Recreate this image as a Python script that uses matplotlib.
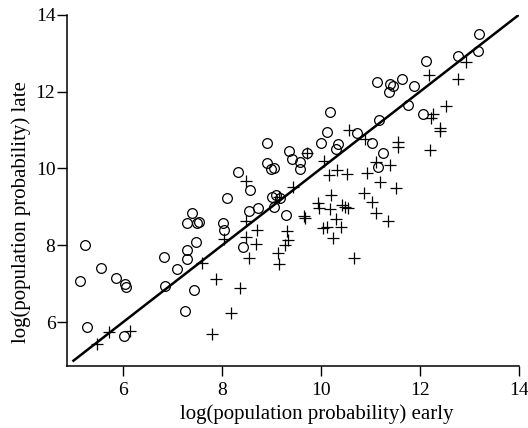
import matplotlib
matplotlib.use('Agg')
import matplotlib.pyplot as plt
import numpy as np

plt.rcParams['font.family'] = ['Liberation Serif', 'DejaVu Serif']

# circles
circ_x = [5.14, 5.23, 5.27, 5.56, 5.86, 6.05, 6.07, 6.02, 6.83, 6.84,
          7.09, 7.29, 7.29, 7.26, 7.43, 7.48, 7.29, 7.39, 7.49, 7.54,
          8.02, 8.05, 8.43, 8.10, 8.56, 8.33, 8.55, 8.72, 8.90, 8.91,
          9.00, 9.06, 9.30, 9.06, 9.02, 9.10, 9.18, 9.35, 9.42, 9.57,
          9.57, 9.71, 10.18, 10.12, 10.00, 10.35, 10.30, 10.73, 11.03, 11.18,
          11.16, 11.25, 13.19, 13.17, 12.77, 12.13, 11.13, 11.40, 11.45, 11.37,
          11.63, 11.88, 11.75, 12.07]
circ_y = [7.06, 8.01, 5.88, 7.41, 7.16, 7.00, 6.91, 5.65, 7.69, 6.94,
          7.38, 7.88, 7.65, 6.29, 6.85, 8.09, 8.58, 8.83, 8.57, 8.61,
          8.59, 8.40, 7.95, 9.22, 9.44, 9.92, 8.89, 8.96, 10.67, 10.15,
          9.98, 10.00, 8.79, 9.01, 9.27, 9.32, 9.22, 10.46, 10.24, 10.18,
          9.99, 10.41, 11.48, 10.94, 10.66, 10.64, 10.51, 10.93, 10.66, 11.26,
          10.05, 10.40, 13.49, 13.06, 12.93, 12.80, 12.26, 12.20, 12.15, 12.00,
          12.33, 12.15, 11.65, 11.41]

# pluses
plus_x = [5.48, 5.72, 6.15, 7.59, 7.87, 7.80, 8.36, 8.19, 8.05, 8.49,
          8.49, 8.70, 8.69, 8.54, 9.31, 9.34, 9.27, 9.13, 9.16, 9.65,
          9.68, 9.93, 9.96, 10.21, 10.18, 10.05, 10.12, 10.25, 10.31, 10.40,
          10.43, 10.49, 10.54, 10.66, 10.87, 8.49, 9.44, 10.06, 10.16, 10.32,
          10.52, 10.57, 10.89, 10.92, 11.04, 11.11, 11.35, 11.11, 11.40, 11.19,
          11.52, 11.55, 11.55, 12.18, 12.77, 12.92, 12.53, 12.26, 12.23, 12.40,
          12.40, 12.20, 9.71, 9.16]
plus_y = [5.43, 5.74, 5.77, 7.55, 7.12, 5.70, 6.90, 6.23, 8.16, 8.63,
          8.23, 8.39, 8.04, 7.66, 8.38, 8.14, 8.01, 7.81, 7.52, 8.76,
          8.72, 9.10, 8.97, 9.31, 8.94, 8.45, 8.49, 8.18, 8.69, 8.47,
          9.05, 8.99, 8.96, 7.66, 9.35, 9.68, 9.53, 10.19, 9.83, 9.97,
          9.86, 11.00, 10.78, 9.87, 9.14, 8.83, 8.64, 10.18, 10.09, 9.66,
          9.48, 10.68, 10.55, 12.43, 12.32, 12.76, 11.63, 11.41, 11.31, 11.06,
          10.98, 10.47, 10.41, 9.27]

line_x = [5, 14]
ticks = [6, 8, 10, 12, 14]

fig = plt.figure(figsize=(5.28, 4.28), dpi=100)
ax = fig.add_axes([0.126, 0.1456, 0.857, 0.820])

ax.plot(line_x, line_x, color='k', lw=1.8, zorder=1)
ax.plot(circ_x, circ_y, 'o', mfc='none', mec='k', ms=7, mew=0.9, zorder=2)
ax.plot(plus_x, plus_y, '+', color='k', ms=8, mew=0.9, zorder=2)

ax.set_xlim(4.86, 14)
ax.set_ylim(4.87, 14)
ax.set_xticks(ticks)
ax.set_yticks(ticks)
ax.spines['top'].set_visible(False)
ax.spines['right'].set_visible(False)
for s in ['left', 'bottom']:
    ax.spines[s].set_linewidth(1.1)
ax.tick_params(direction='out', length=7, width=1.0, labelsize=14)
ax.tick_params(axis='y', pad=1)
ax.tick_params(axis='x', pad=5)

ax.set_xlabel('log(population probability) early', fontsize=15)
ax.set_ylabel('log(population probability) late', fontsize=15)
ax.xaxis.set_label_coords(0.552, -0.11)
ax.yaxis.set_label_coords(-0.079, 0.437)

fig.savefig('out.png', dpi=100)
